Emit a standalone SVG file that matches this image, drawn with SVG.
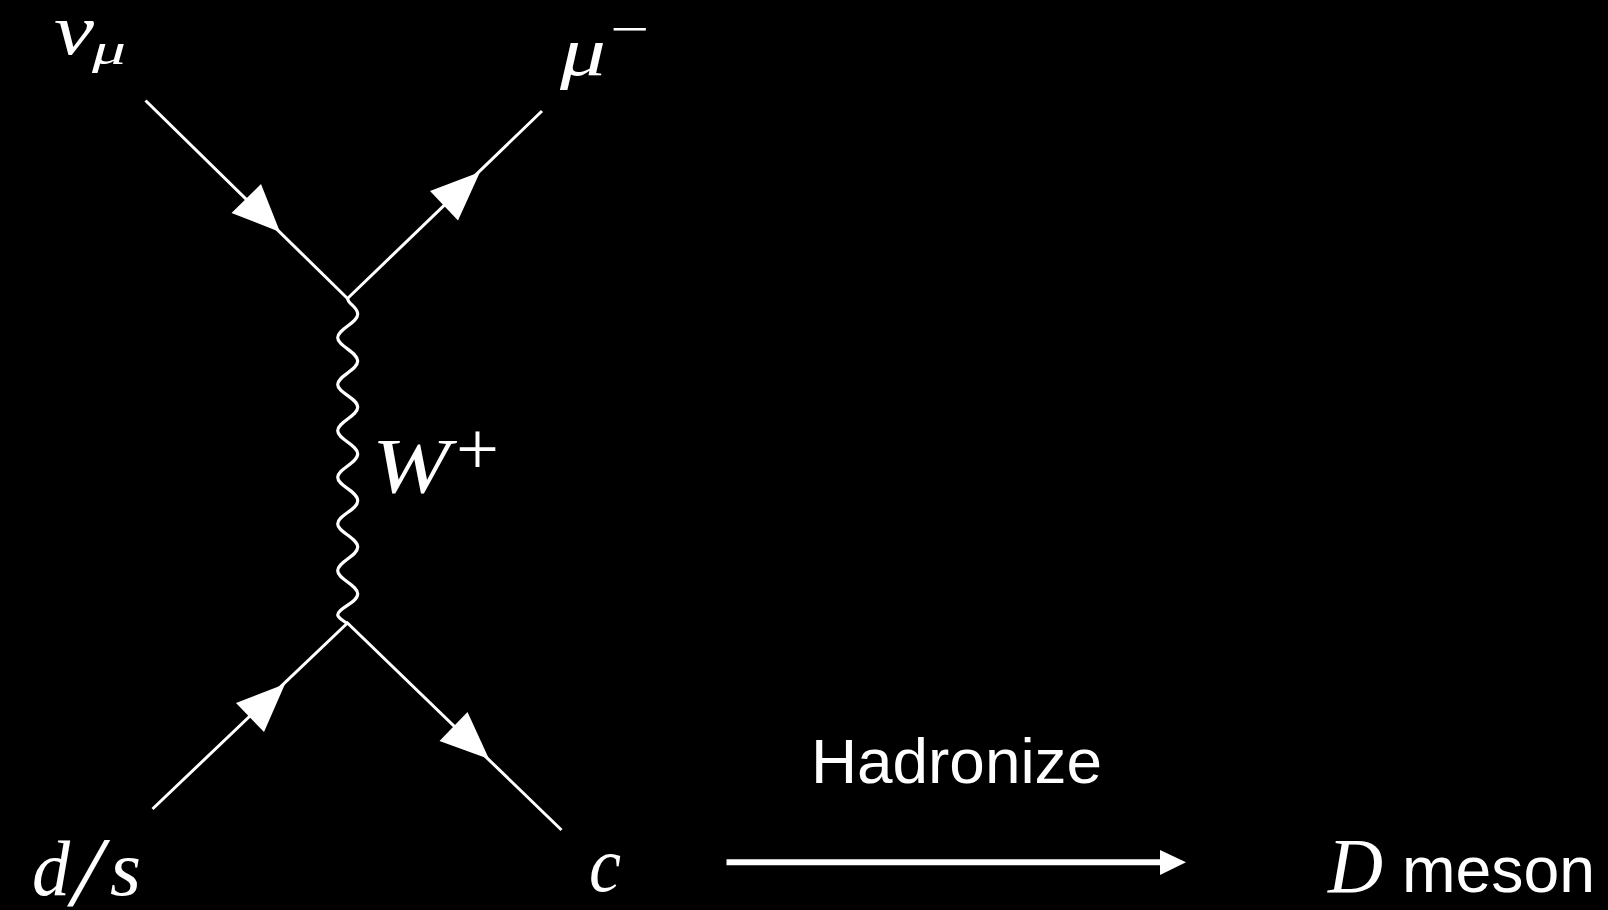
<svg xmlns="http://www.w3.org/2000/svg" width="1608" height="910" viewBox="0 0 1608 910">
<style>
.l{stroke:#fff;stroke-width:3;fill:none}
.h{fill:#fff;stroke:none}
text{fill:#fff}
.m{font-family:"Liberation Serif",serif;font-style:italic}
.r{font-family:"Liberation Serif",serif}
.s{font-family:"Liberation Sans",Arial,sans-serif}
</style>
<rect width="1608" height="910" fill="#000"/>
<g id="connectors">
<path class="l" d="M145.500 100.500L347.500 298.500L542 111"/>
<path class="l" d="M152.500 809L347.500 623L561.500 830"/>
<path class="l" style="stroke-width:3.200" d="M347.700 298C347 304 357.700 306 357.700 314.300C357.700 323 337.700 329 337.700 337.700C337.700 346 357.700 352 357.700 361C357.700 370 337.700 376 337.700 384.500C337.700 393 357.700 398 357.700 407.300C357.700 416 337.700 422 337.700 430.700C337.700 439 357.700 445 357.700 453.700C357.700 463 337.700 469 337.700 477.200C337.700 486 357.700 491 357.700 500.700C357.700 510 337.700 515 337.700 524C337.700 532 357.700 538 357.700 547C357.700 556 337.700 562 337.700 570.700C337.700 579 357.700 585 357.700 593.700C357.700 603 337.700 608 337.700 615C338 618 344 621 347 623.500"/>
<polygon class="h" points="280,232 261,184 231.500,213"/>
<polygon class="h" points="480,172 430,191 458,220.500"/>
<polygon class="h" points="285,684 236,703 264,732"/>
<polygon class="h" points="489,759 467.500,712 439.500,741"/>
<path d="M726.500 862.300H1162" stroke="#fff" stroke-width="6" fill="none"/>
<polygon class="h" points="1186,862.300 1160,850 1160,875"/>
</g>
<g id="node-nu">
<text class="m" x="54" y="54" font-size="72" textLength="40" lengthAdjust="spacingAndGlyphs">ν</text>
<text class="m" x="92" y="64" font-size="44" textLength="34" lengthAdjust="spacingAndGlyphs">μ</text>
</g>
<g id="node-mu">
<text class="m" x="560" y="75" font-size="70" textLength="46" lengthAdjust="spacingAndGlyphs">μ</text>
<text class="r" x="610" y="46" font-size="50" textLength="39" lengthAdjust="spacingAndGlyphs">−</text>
</g>
<g id="node-w">
<text class="m" x="372" y="492" font-size="78" textLength="78" lengthAdjust="spacingAndGlyphs">W</text>
<text class="r" x="456" y="474" font-size="76" textLength="43" lengthAdjust="spacingAndGlyphs">+</text>
</g>
<g id="node-ds">
<text class="m" x="32" y="895" font-size="78" textLength="38" lengthAdjust="spacingAndGlyphs">d</text>
<text class="m" x="72" y="905" font-size="100" textLength="30" lengthAdjust="spacingAndGlyphs">/</text>
<text class="m" x="110" y="895" font-size="78" textLength="31" lengthAdjust="spacingAndGlyphs">s</text>
</g>
<g id="node-c">
<text class="m" x="589" y="891" font-size="78" textLength="32" lengthAdjust="spacingAndGlyphs">c</text>
</g>
<g id="node-hadronize">
<text class="s" x="811" y="783" font-size="63" textLength="291" lengthAdjust="spacingAndGlyphs">Hadronize</text>
</g>
<g id="node-d">
<text class="m" x="1328" y="892" font-size="78" textLength="55" lengthAdjust="spacingAndGlyphs">D</text>
<text class="s" x="1402" y="892" font-size="64" textLength="193" lengthAdjust="spacingAndGlyphs">meson</text>
</g>
</svg>
